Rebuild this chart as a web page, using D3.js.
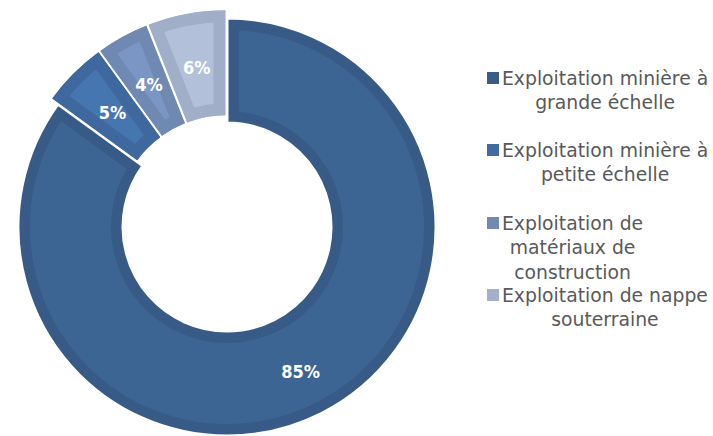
<!DOCTYPE html>
<html>
<head>
<meta charset="utf-8">
<script src="https://cdn.jsdelivr.net/npm/d3@7"></script>
<style>
  body { margin: 0; background: #fff; }
  svg { display: block; }
</style>
</head>
<body>
<svg id="chart" width="713" height="436"></svg>
<script>
const categories = [
  ["Exploitation minière à", "grande échelle"],
  ["Exploitation minière à", "petite échelle"],
  ["Exploitation de", "matériaux de", "construction"],
  ["Exploitation de nappe", "souterraine"]
];
const values = [85, 5, 4, 6];
const labels = ["85%", "5%", "4%", "6%"];
const edgeColors = ["#385a87", "#3f699e", "#6f89b3", "#a0aec8"];
const fillColors = ["#3d6594", "#4676b0", "#7b96c4", "#b3c0da"];
const legendColors = ["#3b5b88", "#416ba0", "#7089b5", "#a2b0cc"];

function drawChart() {
  let svg = d3.select("#chart");
  let cx = 227, cy = 227;
  let outerR = 209, innerR = 104, explode = 8;

  let pie = d3.pie().sort(null).startAngle(0).endAngle(2 * Math.PI);
  let arcs = pie(values);
  let arc = d3.arc().innerRadius(innerR).outerRadius(outerR);

  let g = svg.append("g").attr("transform", `translate(${cx},${cy})`);
  let defs = svg.append("defs");

  arcs.forEach((d, i) => {
    let mid = (d.startAngle + d.endAngle) / 2;
    let off = i === 0 ? 0 : explode;
    let dx = Math.sin(mid) * off, dy = -Math.cos(mid) * off;
    let sg = g.append("g").attr("transform", `translate(${dx},${dy})`);
    defs.append("clipPath").attr("id", "clip" + i)
      .append("path").attr("d", arc(d));
    sg.append("path")
      .attr("d", arc(d))
      .attr("fill", fillColors[i]);
    sg.append("path")
      .attr("d", arc(d))
      .attr("fill", "none")
      .attr("stroke", edgeColors[i])
      .attr("stroke-width", 24)
      .attr("clip-path", `url(#clip${i})`);
    if (i === 0) {
      sg.append("path")
        .attr("d", arc(d))
        .attr("fill", "none")
        .attr("stroke", "#fff")
        .attr("stroke-width", 3);
    }
    let lr = i === 0 ? 162 : 154;
    sg.append("text")
      .attr("x", Math.sin(mid) * lr)
      .attr("y", -Math.cos(mid) * lr)
      .attr("dy", "0.35em")
      .attr("text-anchor", "middle")
      .attr("font-family", "'DejaVu Sans Condensed', 'DejaVu Sans', sans-serif")
      .attr("font-weight", "bold")
      .attr("font-size", 18)
      .attr("fill", "#fff")
      .text(labels[i]);
  });

  // legend
  let tops = [78, 150, 223, 295];
  let lineH = 24.5;
  let textX = 502;
  categories.forEach((lines, i) => {
    let lg = svg.append("g");
    lg.append("rect")
      .attr("x", 487).attr("y", tops[i] - 6)
      .attr("width", 12).attr("height", 12)
      .attr("fill", legendColors[i]);
    let texts = lines.map((t, j) => lg.append("text")
      .attr("y", tops[i] + j * lineH)
      .attr("dy", "0.35em")
      .attr("text-anchor", "middle")
      .attr("font-family", "'DejaVu Sans', sans-serif")
      .attr("font-size", 18.8)
      .attr("fill", "#595959")
      .text(t));
    let maxW = d3.max(texts, t => t.node().getComputedTextLength());
    texts.forEach(t => t.attr("x", textX + maxW / 2));
  });
}

drawChart();
</script>
</body>
</html>
